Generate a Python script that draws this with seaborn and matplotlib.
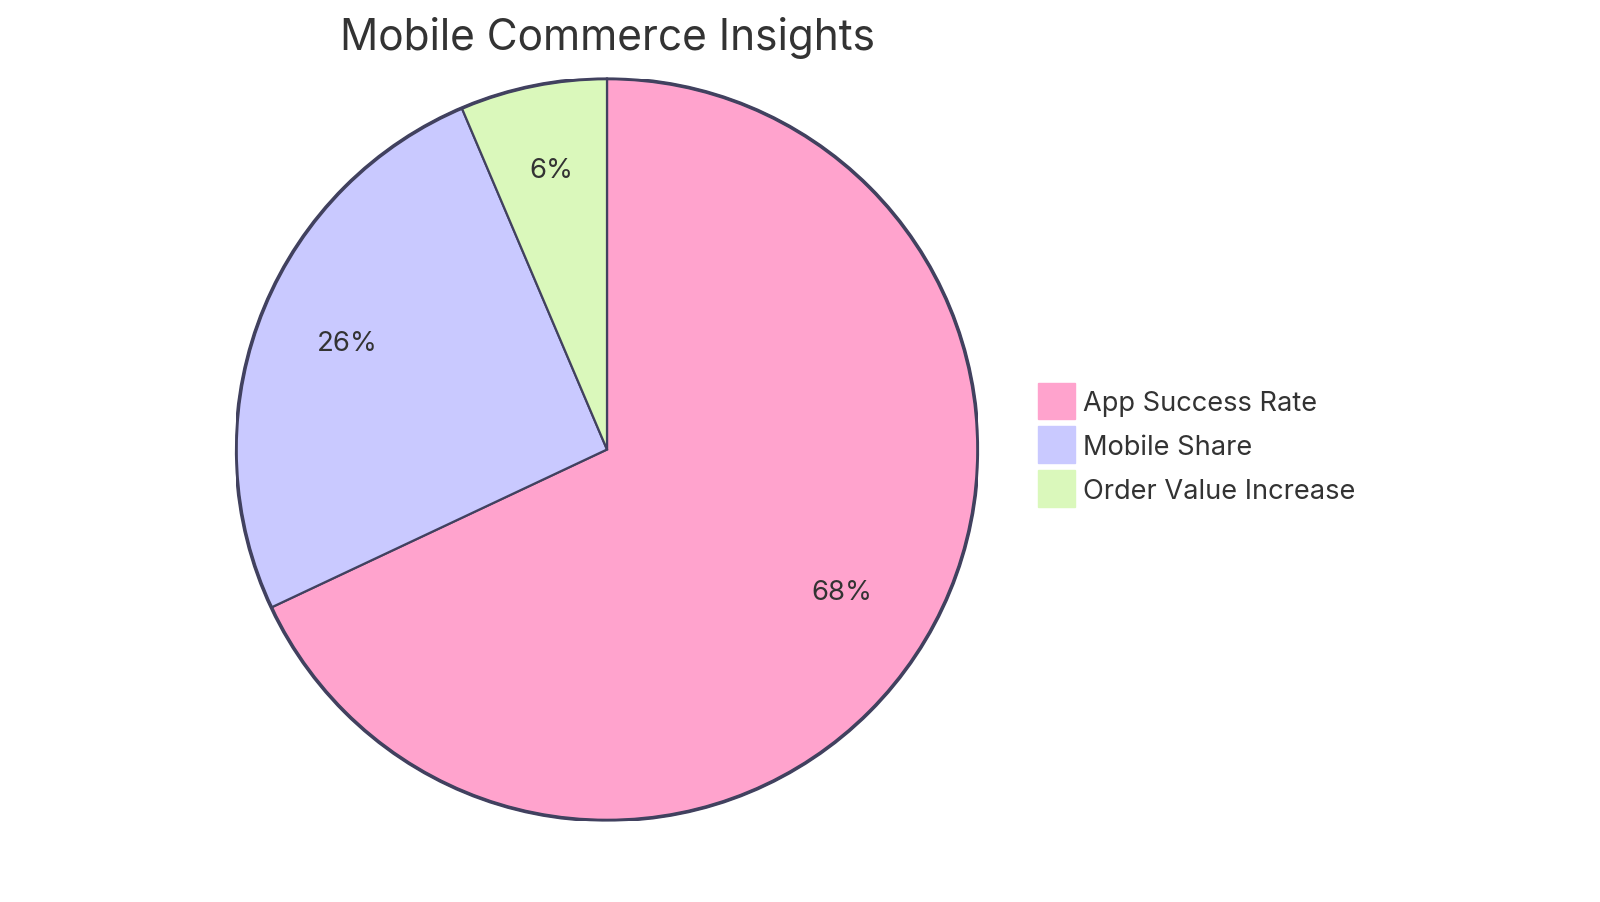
import matplotlib
matplotlib.use("Agg")
import matplotlib.pyplot as plt
import seaborn as sns
from matplotlib.patches import Patch, Circle

categories = ["App Success Rate", "Mobile Share", "Order Value Increase"]
values = [85, 32, 8]
colors = ["#FFA3CD", "#C9C9FF", "#DAF8BB"]
title = "Mobile Commerce Insights"

sns.set_theme(style="white")
plt.rcParams["font.family"] = ["Inter", "DejaVu Sans"]

W, H = 1600, 903
fig = plt.figure(figsize=(W / 100, H / 100), dpi=100)
cx, cy, r = 607, 450.5, 371
ax = fig.add_axes([(cx - r) / W, (H - cy - r) / H, 2 * r / W, 2 * r / H])

edge = "#41415F"
wedges, texts, autotexts = ax.pie(
    values,
    colors=colors,
    startangle=90,
    counterclock=False,
    radius=1,
    autopct=lambda p: f"{p:.0f}%",
    pctdistance=0.75,
    wedgeprops=dict(edgecolor=edge, linewidth=1.6),
    textprops=dict(fontsize=19.8, color="#333333"),
)
for t in autotexts:
    t.set_va("baseline")
ax.add_patch(Circle((0, 0), 1, fill=False, edgecolor=edge, linewidth=2.6, zorder=5))
ax.set_xlim(-1.0, 1.0)
ax.set_ylim(-1.0, 1.0)
ax.axis("off")
for w in wedges:
    w.set_clip_on(False)

fig.text(cx / W, 1 - 38 / H, title, ha="center", va="center", fontsize=30.5, color="#333333")

handles = [Patch(facecolor=c, edgecolor=c) for c in colors]
leg = fig.legend(
    handles, categories,
    loc="upper left",
    bbox_to_anchor=(1038 / W, 1 - 383.5 / H),
    frameon=False,
    fontsize=19.6,
    handlelength=1.35,
    handleheight=1.70,
    labelspacing=0.265,
    handletextpad=0.3,
    borderpad=0,
    borderaxespad=0,
)
for t in leg.get_texts():
    t.set_color("#333333")

fig.savefig("out.png", dpi=100, facecolor="white")
